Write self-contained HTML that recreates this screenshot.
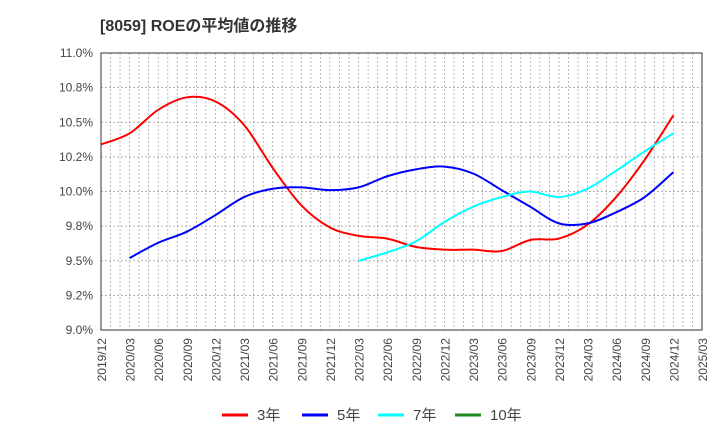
<!DOCTYPE html>
<html><head><meta charset="utf-8"><style>
body{margin:0;background:#fff;font-family:"Liberation Sans","Noto Sans CJK JP",sans-serif}
svg text{font-family:"Liberation Sans","Noto Sans CJK JP",sans-serif}
</style></head><body>
<svg id="c" width="720" height="440">
<text x="100" y="31" font-size="16" font-weight="bold" fill="#333">[8059]  ROEの平均値の推移</text>
<g id="grid"></g><g id="series"></g><g id="axes"></g><g id="legend"></g>
</svg>
<script>
const quarters=["2019/12","2020/03","2020/06","2020/09","2020/12","2021/03","2021/06","2021/09","2021/12","2022/03","2022/06","2022/09","2022/12","2023/03","2023/06","2023/09","2023/12","2024/03","2024/06","2024/09","2024/12","2025/03"];
const yTicks=[9.0,9.25,9.5,9.75,10.0,10.25,10.5,10.75,11.0];
const yTickLabels=["9.0%","9.2%","9.5%","9.8%","10.0%","10.2%","10.5%","10.8%","11.0%"];
const roe3=[10.34,10.42,10.59,10.68,10.65,10.48,10.17,9.90,9.74,9.68,9.66,9.60,9.58,9.58,9.57,9.65,9.66,9.76,9.96,10.23,10.55];
const roe5=[null,9.52,9.63,9.71,9.83,9.96,10.02,10.03,10.01,10.03,10.11,10.16,10.18,10.13,10.01,9.89,9.77,9.77,9.85,9.96,10.14];
const roe7=[null,null,null,null,null,null,null,null,null,9.50,9.56,9.64,9.78,9.89,9.96,10.0,9.96,10.02,10.15,10.29,10.42];
const roe10=[];
const L=101,R=702,T=53,B=330;
const NS="http://www.w3.org/2000/svg";
function x(i){return L+(R-L)*i/(quarters.length-1);}
function y(v){return B-(v-9)/2*(B-T);}
function mk(t,a,p){const e=document.createElementNS(NS,t);for(const k in a)e.setAttribute(k,a[k]);p.appendChild(e);return e;}
const grid=document.getElementById('grid'),axes=document.getElementById('axes'),ser=document.getElementById('series'),leg=document.getElementById('legend');
for(let m=1;m<63;m++){const gx=L+(R-L)*m/63;
const l=mk('line',{x1:gx,x2:gx,y1:T,y2:B,stroke:'#aaa','stroke-dasharray':'2,2','stroke-width':0.8},grid);

}
yTicks.forEach((v,i)=>{const gy=y(v);
const l=mk('line',{x1:L,x2:R,y1:gy,y2:gy,stroke:'#999','stroke-dasharray':'2,2','stroke-width':0.8},grid);


const t=mk('text',{x:L-8,y:gy+4,'text-anchor':'end','font-size':12,fill:'#444'},axes);t.textContent=yTickLabels[i];

});
const fr=mk('rect',{x:L,y:T,width:R-L,height:B-T,fill:'none',stroke:'#333','stroke-width':1},axes);


quarters.forEach((q,i)=>{const t=mk('text',{transform:`translate(${x(i)+5},${B+8}) rotate(-90)`,'text-anchor':'end','font-size':12,fill:'#444'},axes);t.textContent=q;

});
function path(arr,color,name){const p=[];arr.forEach((v,i)=>{if(v!=null)p.push([x(i),y(v)]);});if(p.length<2)return;
let d=`M${p[0][0]},${p[0][1]}`;
for(let i=0;i<p.length-1;i++){const p0=p[Math.max(i-1,0)],p1=p[i],p2=p[i+1],p3=p[Math.min(i+2,p.length-1)];
d+=` C${p1[0]+(p2[0]-p0[0])/6},${p1[1]+(p2[1]-p0[1])/6} ${p2[0]-(p3[0]-p1[0])/6},${p2[1]-(p3[1]-p1[1])/6} ${p2[0]},${p2[1]}`;}
const e=mk('path',{d:d,fill:'none',stroke:color,'stroke-width':2},ser);

}
path(roe3,'#ff0000','line-3yr');path(roe5,'#0000ff','line-5yr');path(roe7,'#00ffff','line-7yr');path(roe10,'#228b22','line-10yr');
const items=[['3年','#ff0000',222],['5年','#0000ff',302],['7年','#00ffff',378],['10年','#228b22',455]];
items.forEach(it=>{const g=mk('g',{},leg);


mk('line',{x1:it[2],x2:it[2]+26,y1:415,y2:415,stroke:it[1],'stroke-width':3},g);
const t=mk('text',{x:it[2]+35,y:420,'font-size':15,fill:'#444'},g);t.textContent=it[0];});
</script>
</body></html>
